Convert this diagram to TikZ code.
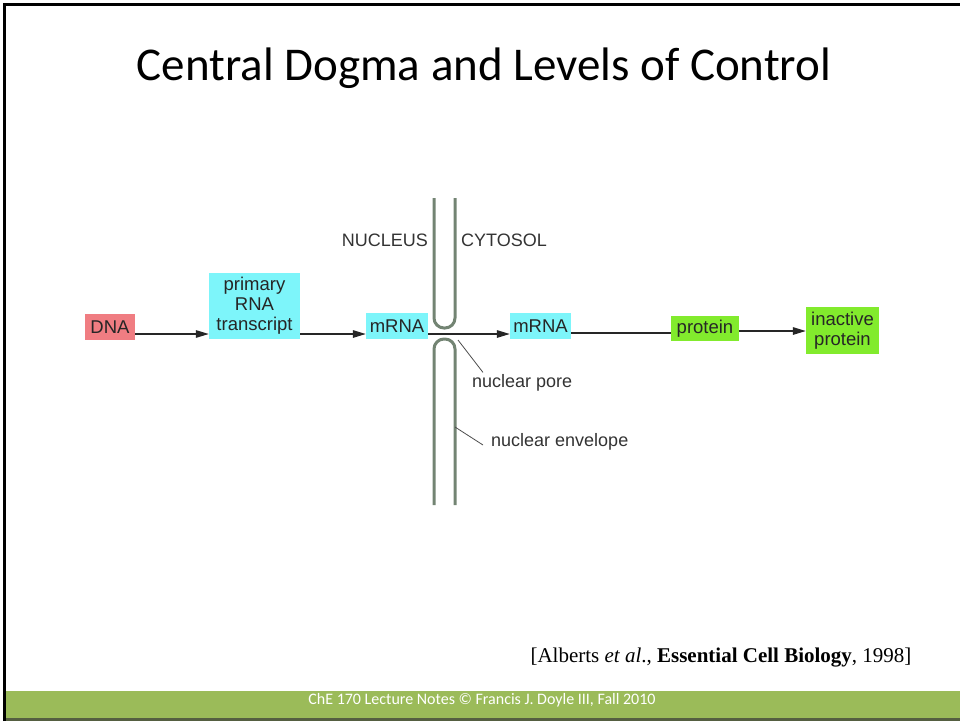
\documentclass[tikz,border=0pt]{standalone}
\usepackage{fontspec}
\setmainfont{Liberation Serif}
\newfontfamily\slidefont{Carlito}
\newfontfamily\figfont{Liberation Sans}
\usetikzlibrary{arrows.meta}
\definecolor{dnared}{RGB}{240,125,130}
\definecolor{rnacyan}{RGB}{125,245,250}
\definecolor{protgreen}{RGB}{130,235,45}
\definecolor{envgray}{RGB}{115,132,115}
\definecolor{footgreen}{RGB}{155,187,89}
\definecolor{footdark}{RGB}{85,95,65}
\tikzset{
	box/.style={inner sep=0pt, text=black!85, align=center, font=\figfont\fontsize{18.5}{20}\selectfont},
	lbl/.style={inner sep=0pt, text=black!80, font=\figfont\fontsize{18}{20}\selectfont},
	flow/.style={line width=1.4pt, draw=black!85, -{Triangle[length=13pt,width=7.5pt]}},
	envelope/.style={line width=3pt, draw=envgray, rounded corners=10pt},
	pointer/.style={line width=0.8pt, draw=black!70},
}

\begin{document}
\begin{tikzpicture}[x=1pt, y=-1pt]
		%%%%% START %%%%%
		\useasboundingbox (0,0) rectangle (960,721);
		
		% slide frame and footer
		\draw[line width=3.5pt] (4.5,721) -- (4.5,4.5) -- (960,4.5);
		\fill[footgreen] (6,691) rectangle (960,718);
		\fill[footdark] (6,718) rectangle (960,721);
		
		\node[font=\slidefont\fontsize{47}{56}\selectfont, anchor=base] (title) at (484,80) {Central Dogma and Levels of Control};
		
		% nuclear envelope
		\draw[envelope] (434,198) -- (434,328) -- (455,328) -- (455,198);
		\draw[envelope] (434,505) -- (434,339) -- (455,339) -- (455,505);
		
		\node[lbl] (nucleus) at (385,240) {NUCLEUS};
		\node[lbl] (cytosol) at (504,240) {CYTOSOL};
		
		\node[box, fill=dnared, minimum width=50pt, minimum height=26pt] (dna) at (110,327) {DNA};
		\node[box, fill=rnacyan, minimum width=91pt, minimum height=66pt] (prim) at (254.5,306) {primary\\RNA\\transcript};
		\node[box, fill=rnacyan, minimum width=62pt, minimum height=26pt] (mrnaA) at (397,326) {mRNA};
		\node[box, fill=rnacyan, minimum width=61pt, minimum height=26pt] (mrnaB) at (540.5,326) {mRNA};
		\node[box, fill=protgreen, minimum width=68pt, minimum height=25pt] (prot) at (705,328.5) {protein};
		\node[box, fill=protgreen, minimum width=73pt, minimum height=47pt] (inact) at (842.5,330.5) {inactive\\protein};
		
		\draw[flow] ([yshift=-7pt]dna.east) -- ([yshift=-7pt]dna.east -| prim.west);
		\draw[flow] ([yshift=-7pt]dna.east -| prim.east) -- ([yshift=-8pt]mrnaA.west);
		\draw[flow] ([yshift=-8pt]mrnaA.east) -- ([yshift=-8pt]mrnaB.west);
		\draw[line width=1.4pt, draw=black!85] ([yshift=-7pt]mrnaB.east) -- ([yshift=-7pt]mrnaB.east -| prot.west);
		\draw[flow] ([yshift=-2.5pt]prot.east) -- ([yshift=-2.5pt]prot.east -| inact.west);
		
		% pointers
		\coordinate (porept) at (458,340);
		\coordinate (envpt) at (455,427);
		\node[lbl, anchor=west] (pore) at (472,383) {nuclear pore};
		\node[lbl, anchor=west] (env) at (491,442) {nuclear envelope};
		\draw[pointer] (porept) -- ([xshift=11pt,yshift=2pt]pore.north west);
		\draw[pointer] (envpt) -- ([xshift=-8pt,yshift=-3pt]env.west);
		
		\node[font=\fontsize{21}{25}\selectfont, anchor=base east] (cite) at (915,662) {[Alberts \textit{et al}., \textbf{Essential Cell Biology}, 1998]};
		\node[font=\slidefont\fontsize{16}{19}\selectfont, text=white, anchor=base] (foot) at (482,704) {ChE 170 Lecture Notes © Francis J. Doyle III, Fall 2010};
		%%%%% END %%%%%
\end{tikzpicture}
\end{document}
